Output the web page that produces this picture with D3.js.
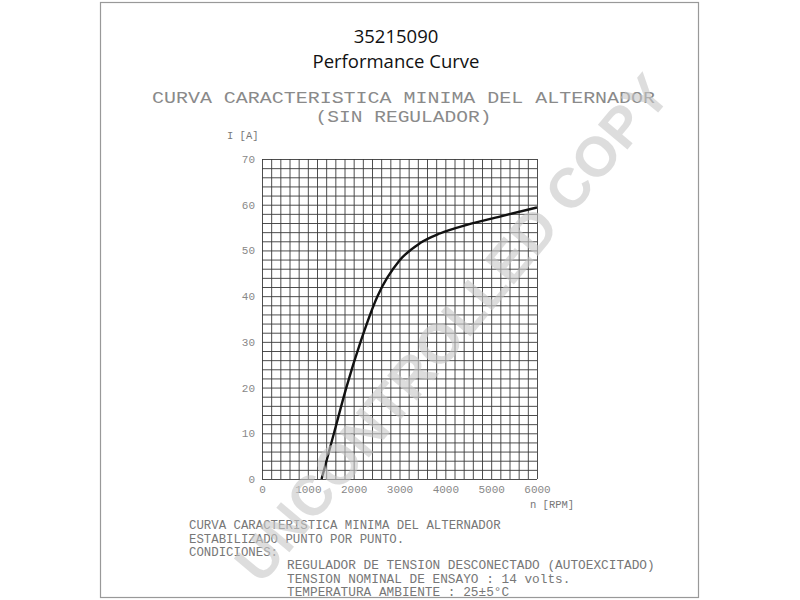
<!DOCTYPE html>
<html><head><meta charset="utf-8">
<script src="https://cdn.jsdelivr.net/npm/d3@7"></script>
<style>body{margin:0;background:#fff}svg{display:block}</style>
</head><body>
<svg id="c" width="800" height="600"></svg>
<script>
const rpm = [1300, 1570, 1840, 2150, 2520, 3000, 3450, 3880, 4470, 5190, 6000];
const current = [0, 10, 20, 30, 40, 47.8, 51.6, 53.7, 55.6, 57.4, 59.4];
const xTicks = [0, 1000, 2000, 3000, 4000, 5000, 6000];
const yTicks = [0, 10, 20, 30, 40, 50, 60, 70];
const titleLines = ["35215090", "Performance Curve"];
const headLines = ["CURVA CARACTERISTICA MINIMA DEL ALTERNADOR", "(SIN REGULADOR)"];
const noteLines = ["CURVA CARACTERISTICA MINIMA DEL ALTERNADOR", "ESTABILIZADO PUNTO POR PUNTO.", "CONDICIONES:"];
const condLines = ["REGULADOR DE TENSION DESCONECTADO (AUTOEXCITADO)", "TENSION NOMINAL DE ENSAYO : 14 volts.", "TEMPERATURA AMBIENTE : 25±5°C"];
const yLabel = "I [A]";
const xLabel = "n [RPM]";
const watermark = "UNCONTROLLED COPY";

const svg = d3.select("#c");
const mono = "'Liberation Mono', 'DejaVu Sans Mono', monospace";

// page frame
svg.append("rect").attr("x", 100.5).attr("y", 2.5).attr("width", 598).attr("height", 595)
  .attr("fill", "none").attr("stroke", "#999").attr("stroke-width", 1.2);

const x = d3.scaleLinear().domain([0, 6000]).range([262, 537]);
const y = d3.scaleLinear().domain([0, 70]).range([479, 159]);

// titles
svg.selectAll("text.title").data(titleLines).join("text")
  .attr("x", 396).attr("y", (d, i) => 43 + i * 24.5)
  .attr("text-anchor", "middle").attr("font-family", "'Open Sans', sans-serif")
  .attr("font-size", 18.5).attr("fill", "#111").text(d => d);

// head lines (CAD style)
const headW = [503, 176];
svg.selectAll("text.head").data(headLines).join("text")
  .attr("x", 403.5).attr("y", (d, i) => 103 + i * 18.5)
  .attr("text-anchor", "middle").attr("font-family", mono).attr("font-size", 17)
  .attr("textLength", (d, i) => headW[i]).attr("lengthAdjust", "spacingAndGlyphs")
  .attr("fill", "#8a8a8a").text(d => d);

// grid
const grid = svg.append("g");
grid.append("g").attr("transform", "translate(0,479)")
  .call(d3.axisBottom(x).tickValues(d3.range(0, 6001, 200)).tickSize(-320).tickFormat(""))
  .call(g => g.select(".domain").remove())
  .call(g => g.selectAll("line").attr("stroke", "#3a3a3a").attr("stroke-width", 0.9));
grid.append("g").attr("transform", "translate(262,0)")
  .call(d3.axisLeft(y).tickValues(d3.range(0, 71, 2)).tickSize(-275).tickFormat(""))
  .call(g => g.select(".domain").remove())
  .call(g => g.selectAll("line").attr("stroke", "#3a3a3a").attr("stroke-width", 0.9));

// tick labels
const xa = svg.append("g").attr("transform", "translate(0,479)")
  .call(d3.axisBottom(x).tickValues(xTicks).tickSize(0).tickPadding(6).tickFormat(d3.format("d")));
xa.select(".domain").remove();
xa.selectAll("text").attr("font-family", mono).attr("font-size", 11).attr("fill", "#888");
const ya = svg.append("g").attr("transform", "translate(262,0)")
  .call(d3.axisLeft(y).tickValues(yTicks).tickSize(0).tickPadding(7).tickFormat(d3.format("d")));
ya.select(".domain").remove();
ya.selectAll("text").attr("font-family", mono).attr("font-size", 11).attr("fill", "#888");

svg.append("text").attr("x", 227).attr("y", 139).attr("font-family", mono).attr("font-size", 10.5)
  .attr("fill", "#777").text(yLabel);
svg.append("text").attr("x", 530).attr("y", 508).attr("font-family", mono).attr("font-size", 10.5)
  .attr("fill", "#777").text(xLabel);

// curve
const line = d3.line().x(d => x(d[0])).y(d => y(d[1])).curve(d3.curveMonotoneX);
svg.append("path").datum(rpm.map((r, i) => [r, current[i]]))
  .attr("d", line).attr("fill", "none").attr("stroke", "#111").attr("stroke-width", 2.4);

// notes
svg.selectAll("text.note").data(noteLines).join("text")
  .attr("x", 189).attr("y", (d, i) => 529 + i * 13.5)
  .attr("font-family", mono).attr("font-size", 12.5)
  .attr("textLength", d => d.length * 7.42).attr("lengthAdjust", "spacingAndGlyphs")
  .attr("fill", "#777").text(d => d);
svg.selectAll("text.cond").data(condLines).join("text")
  .attr("x", 287).attr("y", (d, i) => 569 + i * 13.5)
  .attr("font-family", mono).attr("font-size", 12.5)
  .attr("textLength", d => d.length * 7.66).attr("lengthAdjust", "spacingAndGlyphs")
  .attr("fill", "#777").text(d => d);

// watermark
svg.append("text").attr("transform", "translate(452,328) rotate(-50)")
  .attr("text-anchor", "middle").attr("dominant-baseline", "central")
  .attr("font-family", "'Liberation Sans', Arial, sans-serif").attr("font-weight", "bold")
  .attr("font-size", 56).attr("textLength", 640).attr("lengthAdjust", "spacingAndGlyphs")
  .attr("fill", "#c8c8c8").attr("opacity", 0.6).text(watermark);
</script>
</body></html>
